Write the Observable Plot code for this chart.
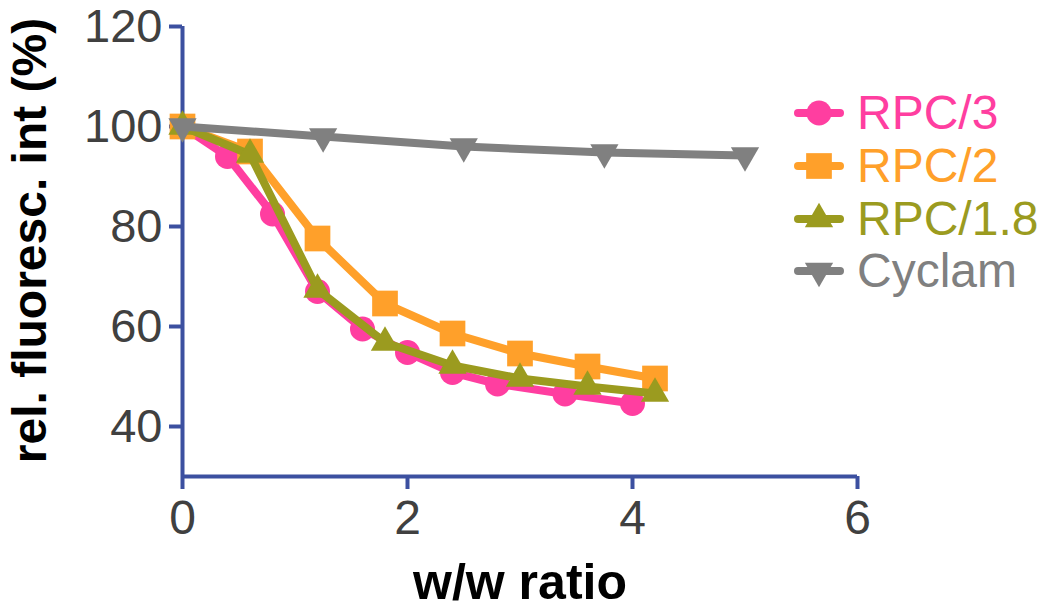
<!DOCTYPE html>
<html>
<head>
<meta charset="utf-8">
<script src="https://cdn.jsdelivr.net/npm/d3@7"></script>
<script src="https://cdn.jsdelivr.net/npm/@observablehq/plot@0.6"></script>
<style>
  html, body { margin: 0; padding: 0; background: #fff; }
  #wrap { position: relative; width: 1050px; height: 610px; font-family: "Liberation Sans", Arial, sans-serif; }
  #legend { position: absolute; left: 794px; top: 87px; }
  .row { display: flex; align-items: center; height: 52.7px; }
  .row span { font-size: 48px; margin-left: 13px; line-height: 1; }
</style>
</head>
<body>
<div id="wrap"></div>
<script>
// ---- data ----
const seriesNames = ["RPC/3", "RPC/2", "RPC/1.8", "Cyclam"];
const ratioRPC3 = [0, 0.4, 0.8, 1.2, 1.6, 2.0, 2.4, 2.8, 3.4, 4.0];
const valuesRPC3 = [100, 94, 82.5, 67, 59.5, 54.8, 50.8, 48.5, 46.5, 44.6];
const ratioRPC2 = [0, 0.6, 1.2, 1.8, 2.4, 3.0, 3.6, 4.2];
const valuesRPC2 = [100, 95, 77.6, 64.6, 58.6, 54.6, 52, 49.6];
const ratioRPC18 = [0, 0.6, 1.2, 1.8, 2.4, 3.0, 3.6, 4.2];
const valuesRPC18 = [100, 94.4, 67.4, 56.8, 52.2, 49.6, 48, 46.6];
const ratioCyclam = [0, 1.25, 2.5, 3.75, 5];
const valuesCyclam = [100, 98, 96, 94.8, 94.2];
const xTicks = [0, 2, 4, 6];
const yTicks = [40, 60, 80, 100, 120];
const xLabel = "w/w ratio";
const yLabel = "rel. fluoresc. int (%)";

// ---- styles ----
const colors = {"RPC/3": "#ff3ea0", "RPC/2": "#ffa02a", "RPC/1.8": "#9b9b1f", "Cyclam": "#808080"};
const symbols = {
  "RPC/3": {symbol: "circle", r: 12.5, rotate: 0},
  "RPC/2": {symbol: "square", r: 14.5, rotate: 0},
  "RPC/1.8": {symbol: "triangle", r: 10.5, rotate: 0},
  "Cyclam": {symbol: "triangle", r: 10.5, rotate: 180}
};
const axisColor = "#3c50a0";

const toRows = (name, xs, ys) => xs.map((x, i) => ({series: name, x, y: ys[i]}));
const data = {
  "RPC/3": toRows("RPC/3", ratioRPC3, valuesRPC3),
  "RPC/2": toRows("RPC/2", ratioRPC2, valuesRPC2),
  "RPC/1.8": toRows("RPC/1.8", ratioRPC18, valuesRPC18),
  "Cyclam": toRows("Cyclam", ratioCyclam, valuesCyclam)
};

const seriesMarks = seriesNames.flatMap(name => [
  Plot.line(data[name], {x: "x", y: "y", stroke: colors[name], strokeWidth: 8, strokeLinejoin: "round"}),
  Plot.dot(data[name], {x: "x", y: "y", fill: colors[name], stroke: "none",
    symbol: symbols[name].symbol, r: symbols[name].r, rotate: symbols[name].rotate})
]);

const chart = Plot.plot({
  width: 1050,
  height: 610,
  marginLeft: 182,
  marginRight: 193,
  marginTop: 26,
  marginBottom: 134,
  style: {fontFamily: "Liberation Sans, Arial, sans-serif", background: "#fff"},
  x: {domain: [0, 6]},
  y: {domain: [30, 120]},
  marks: [
    Plot.axisX({ticks: xTicks, tickFormat: d3.format("d"), tickSize: 13, tickPadding: 10, fontSize: 48, stroke: axisColor, strokeWidth: 4, fill: "#404040", label: null}),
    Plot.axisY({ticks: yTicks, tickFormat: d3.format("d"), tickSize: 13, tickPadding: 7, fontSize: 47, stroke: axisColor, strokeWidth: 4, fill: "#404040", label: null}),
    Plot.ruleX([0], {stroke: axisColor, strokeWidth: 4}),
    Plot.ruleY([30], {stroke: axisColor, strokeWidth: 4}),
    Plot.text([xLabel], {frameAnchor: "bottom", dy: 122, fontSize: 50, fontWeight: "bold", fill: "#000"}),
    Plot.text([yLabel], {frameAnchor: "left", dx: -152, dy: -11, rotate: -90, textAnchor: "middle", fontSize: 48, fontWeight: "bold", fill: "#000"}),
    ...seriesMarks
  ]
});

const wrap = document.getElementById("wrap");
wrap.appendChild(chart);

// legend
const legend = document.createElement("div");
legend.id = "legend";
const symbolGen = {circle: d3.symbolCircle, square: d3.symbolSquare, triangle: d3.symbolTriangle};
for (const name of seriesNames) {
  const row = document.createElement("div");
  row.className = "row";
  const s = symbols[name];
  const area = Math.PI * s.r * s.r;
  const path = d3.symbol(symbolGen[s.symbol], area)();
  row.innerHTML = `<svg width="50" height="40" viewBox="-25 -20 50 40">
      <line x1="-21" x2="21" y1="0" y2="0" stroke="${colors[name]}" stroke-width="8" stroke-linecap="round"/>
      <path d="${path}" fill="${colors[name]}" transform="rotate(${s.rotate})"/>
    </svg><span style="color:${colors[name]}">${name}</span>`;
  legend.appendChild(row);
}
wrap.appendChild(legend);
</script>
</body>
</html>
